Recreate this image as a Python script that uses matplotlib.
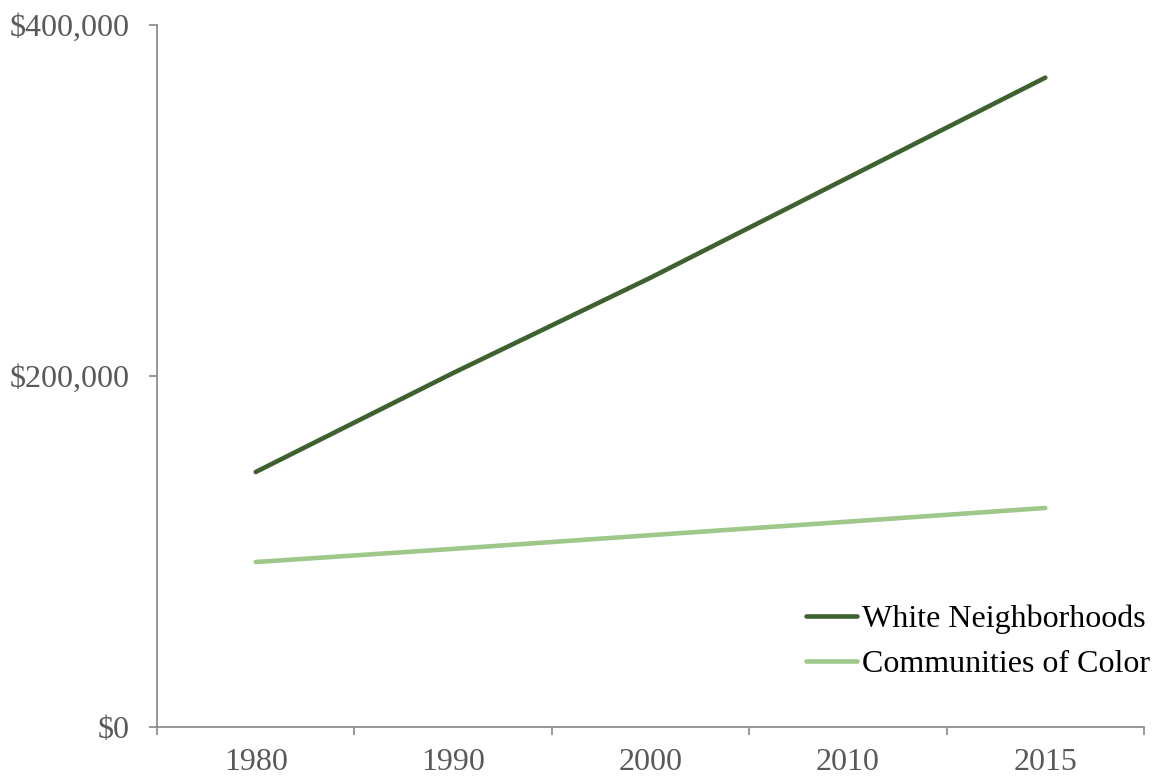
import matplotlib
matplotlib.use("Agg")
import matplotlib.pyplot as plt
import numpy as np
from matplotlib.ticker import FuncFormatter, FixedLocator

years = ["1980", "1990", "2000", "2010", "2015"]
white = [145300, 201700, 256000, 313000, 370000]
color = [94000, 101500, 109300, 117000, 124800]
series_names = ["White Neighborhoods", "Communities of Color"]
y_ticks = [0, 200000, 400000]

plt.rcParams['font.family'] = ['Liberation Serif', 'DejaVu Serif']

fig = plt.figure(figsize=(11.57, 7.77), dpi=100)
ax = fig.add_axes([157/1157, 1-727/777, (1144-157)/1157, (727-25)/777])

x = np.arange(len(years))
ax.plot(x, white, color="#3E6130", lw=3.3, solid_capstyle="round", label=series_names[0])
ax.plot(x, color, color="#9DC88A", lw=3.3, solid_capstyle="round", label=series_names[1])

ax.set_xlim(-0.5, len(years) - 0.5)
ax.set_ylim(0, 400000)

ax.set_xticks(x)
ax.set_xticklabels(years)
ax.xaxis.set_minor_locator(FixedLocator(np.arange(-0.5, len(years), 1.0)))
ax.tick_params(axis="x", which="major", length=0, pad=15, labelsize=23, labelcolor="#595959")
ax.tick_params(axis="x", which="minor", length=6, width=1.2, color="#868686")

ax.set_yticks(y_ticks)
ax.yaxis.set_major_formatter(FuncFormatter(lambda v, p: "${:,.0f}".format(v)))
ax.tick_params(axis="y", length=6, width=1.2, color="#868686", pad=13.5, labelsize=23, labelcolor="#595959")

for s in ["top", "right"]:
    ax.spines[s].set_visible(False)
for s in ["left", "bottom"]:
    ax.spines[s].set_color("#868686")
    ax.spines[s].set_linewidth(1.2)

leg = fig.legend(loc="center left", bbox_to_anchor=(806/1157, 1-642/777), frameon=False,
                 fontsize=23, handlelength=1.6, handletextpad=0.15, labelspacing=0.5,
                 borderpad=0, borderaxespad=0)
for t in leg.get_texts():
    t.set_color("black")

fig.savefig("out.png", dpi=100)
